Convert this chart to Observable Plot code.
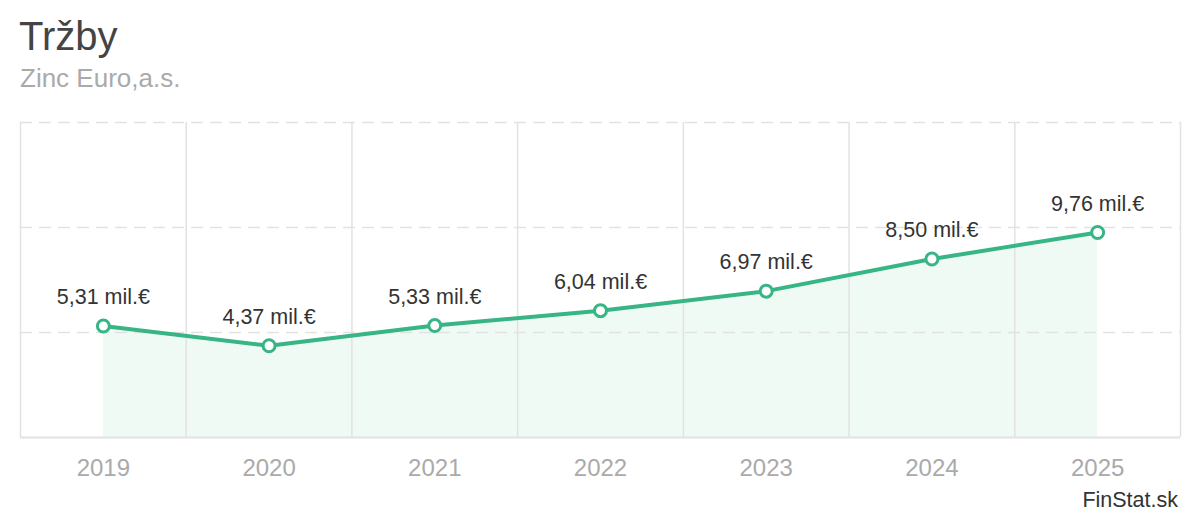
<!DOCTYPE html>
<html>
<head>
<meta charset="utf-8">
<script src="https://cdn.jsdelivr.net/npm/d3@7"></script>
<script src="https://cdn.jsdelivr.net/npm/@observablehq/plot@0.6"></script>
<style>
  html, body { margin: 0; padding: 0; background: #fff; }
  body { font-family: Arial, "Liberation Sans", sans-serif; width: 1200px; height: 520px; overflow: hidden; }
  #header { position: relative; height: 100px; }
  #title { position: absolute; left: 19px; top: 16px; font-size: 40px; line-height: 40px; color: #444; }
  #subtitle { position: absolute; left: 20px; top: 65px; font-size: 26px; line-height: 26px; color: #aaa; }
  #chart { height: 390px; }
  #chart svg { display: block; }
  #footer { position: relative; height: 30px; }
  #source { position: absolute; right: 22px; top: 0px; font-size: 21.5px; line-height: 21.5px; color: #333; }
</style>
</head>
<body>
<div id="header">
  <div id="title">Tržby</div>
  <div id="subtitle">Zinc Euro,a.s.</div>
</div>
<div id="chart"></div>
<div id="footer"><div id="source">FinStat.sk</div></div>
<script>
const years = [2019, 2020, 2021, 2022, 2023, 2024, 2025];
const revenue = [5.31, 4.37, 5.33, 6.04, 6.97, 8.50, 9.76];
const yTicks = [5, 10, 15];
const unit = " mil.€";

const data = years.map((year, i) => ({year, value: revenue[i]}));
const bandEdges = d3.range(years[0] - 0.5, years[years.length - 1] + 1, 1);
const innerEdges = bandEdges.slice(1, -1);
const fmt = v => d3.format(".2f")(v).replace(".", ",") + unit;

const green = "#38b584";
const grid = "#e2e2e2";

const chart = Plot.plot({
  width: 1200,
  height: 390,
  marginLeft: 20,
  marginRight: 20,
  marginTop: 22,
  marginBottom: 53,
  style: {fontFamily: "Arial, 'Liberation Sans', sans-serif", background: "#fff"},
  x: {type: "linear", domain: [bandEdges[0], bandEdges[bandEdges.length - 1]]},
  y: {domain: [0, 15]},
  marks: [
    Plot.areaY(data, {x: "year", y: "value", fill: "#effaf5"}),
    Plot.ruleX(innerEdges, {stroke: grid, strokeWidth: 1.5}),
    Plot.ruleX([bandEdges[0], bandEdges[bandEdges.length - 1]], {stroke: grid, strokeWidth: 1.5}),
    Plot.ruleY(yTicks, {stroke: grid, strokeWidth: 1.5, strokeDasharray: "12,7"}),
    Plot.ruleY([0], {stroke: grid, strokeWidth: 2}),
    Plot.lineY(data, {x: "year", y: "value", stroke: green, strokeWidth: 4}),
    Plot.dot(data, {x: "year", y: "value", r: 6, fill: "#fff", stroke: green, strokeWidth: 3}),
    Plot.text(data, {x: "year", y: "value", text: d => fmt(d.value), dy: -22, lineAnchor: "bottom", fontSize: 21.5, fill: "#333"}),
    Plot.axisX({ticks: years, tickFormat: d => String(d), tickSize: 0, tickPadding: 21, fontSize: 24, color: "#aaa", label: null}),
    Plot.axisY({ticks: [], label: null})
  ]
});
document.getElementById("chart").append(chart);
</script>
</body>
</html>
